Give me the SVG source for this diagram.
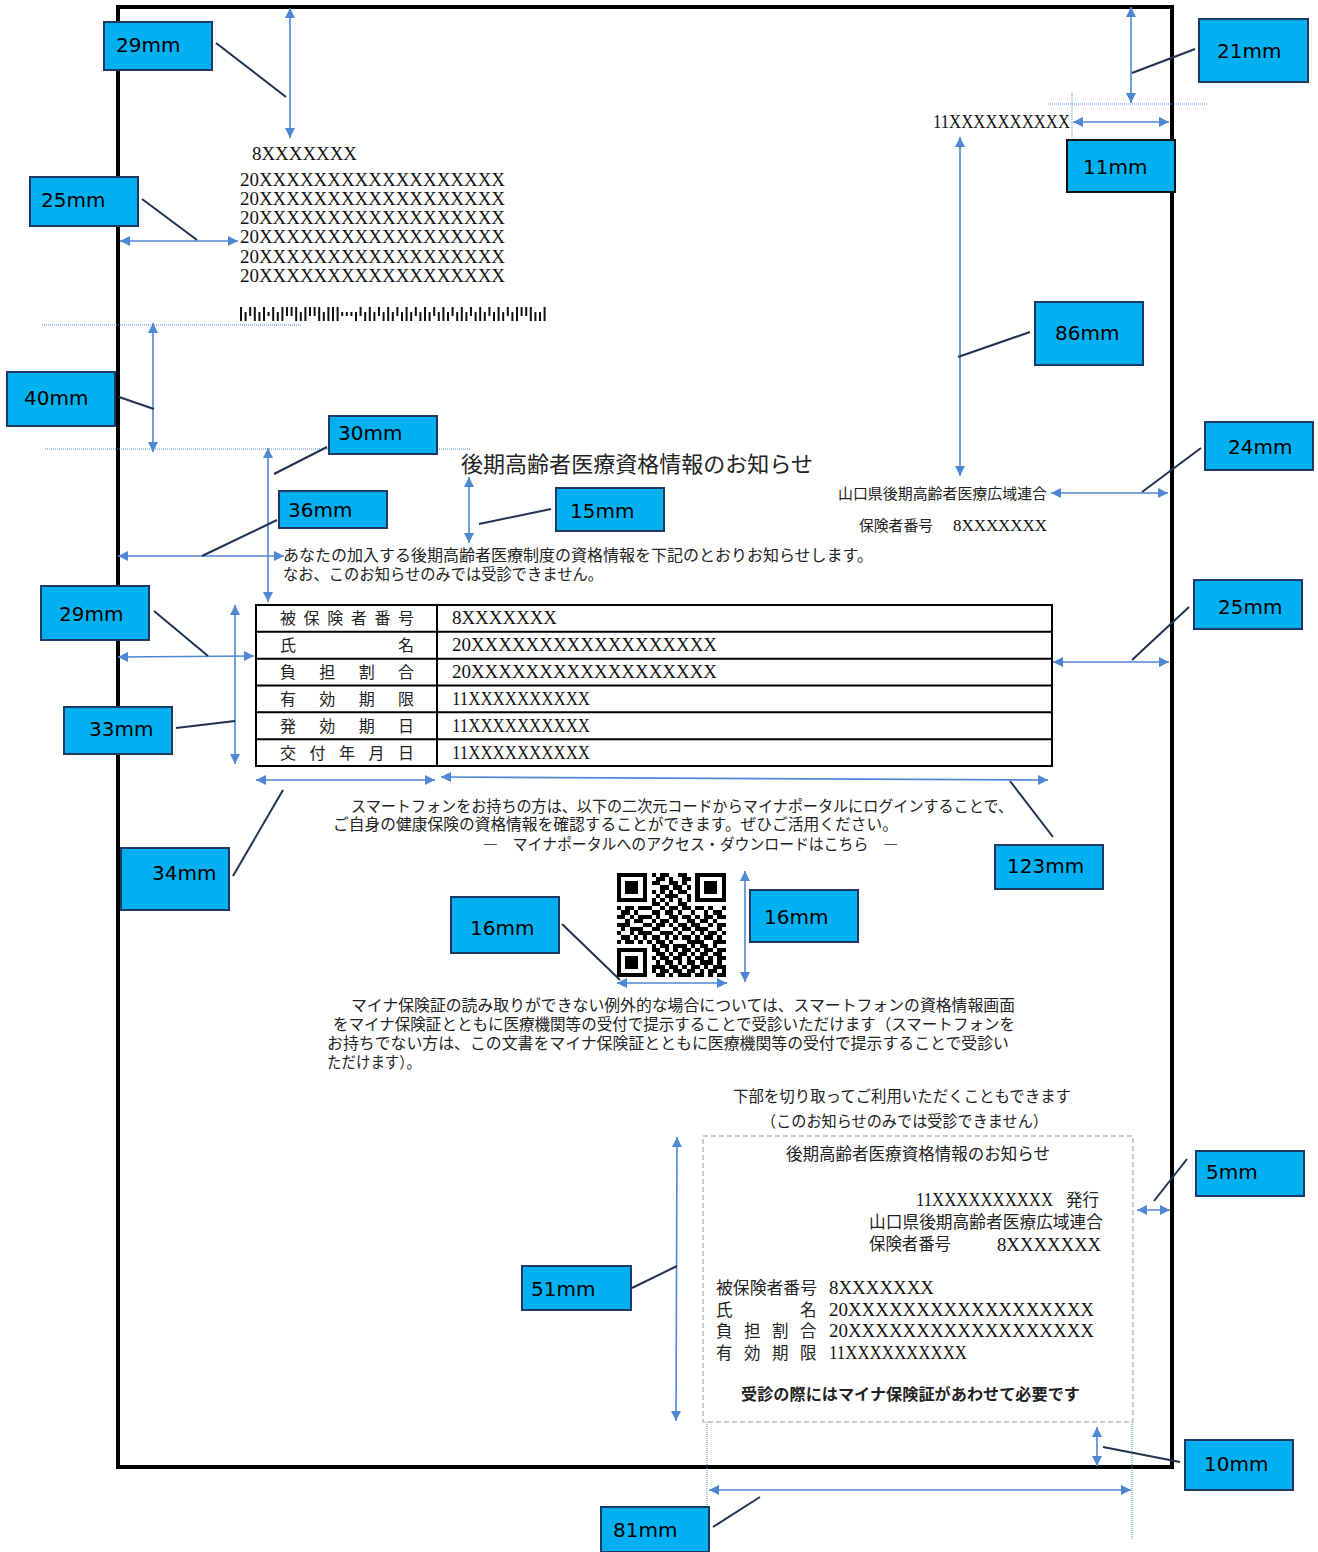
<svg xmlns="http://www.w3.org/2000/svg" width="1318" height="1552" viewBox="0 0 1318 1552">
<style>
.lbl rect{fill:#00B0F0;stroke:#1F3864;stroke-width:2}
.lbl text{font-family:"DejaVu Sans",Verdana,sans-serif;font-size:20px;fill:#000}
.dim{stroke:#4F87D4;stroke-width:1.6;fill:none;marker-start:url(#ah);marker-end:url(#ah)}
.lead{stroke:#1F3350;stroke-width:2;fill:none}
.guide{stroke:#4F87D4;stroke-width:1;stroke-dasharray:1 1;fill:none}
.jp{font-family:"Noto Sans CJK JP","Noto Sans",sans-serif;fill:#222}
.sr{font-family:"Liberation Serif","DejaVu Serif",serif;fill:#111}
.tbl{fill:none;stroke:#000;stroke-width:2}
</style>
<defs>
<marker id="ah" viewBox="0 0 10 10" refX="10" refY="5" markerWidth="10" markerHeight="10" markerUnits="userSpaceOnUse" orient="auto-start-reverse">
<path d="M0,0 L10,5 L0,10 z" fill="#4F87D4"/>
</marker>
</defs>
<rect width="1318" height="1552" fill="#fff"/>
<!-- page -->
<rect x="118" y="7" width="1054" height="1460" fill="none" stroke="#000" stroke-width="4"/>

<!-- address block -->
<text class="sr" x="252" y="160" font-size="18" textLength="105" lengthAdjust="spacingAndGlyphs">8XXXXXXX</text>
<g class="sr" font-size="18">
<text x="240" y="186" textLength="265" lengthAdjust="spacingAndGlyphs">20XXXXXXXXXXXXXXXXXX</text>
<text x="240" y="205" textLength="265" lengthAdjust="spacingAndGlyphs">20XXXXXXXXXXXXXXXXXX</text>
<text x="240" y="224" textLength="265" lengthAdjust="spacingAndGlyphs">20XXXXXXXXXXXXXXXXXX</text>
<text x="240" y="243" textLength="265" lengthAdjust="spacingAndGlyphs">20XXXXXXXXXXXXXXXXXX</text>
<text x="240" y="263" textLength="265" lengthAdjust="spacingAndGlyphs">20XXXXXXXXXXXXXXXXXX</text>
<text x="240" y="282" textLength="265" lengthAdjust="spacingAndGlyphs">20XXXXXXXXXXXXXXXXXX</text>
</g>
<!-- barcode -->
<g stroke="#111" stroke-width="2" fill="none">
<path d="M241 307V321 M254.8 307V321 M264 307V321 M273.2 307V321 M282.4 307V321 M296.2 307V321 M305.4 307V321 M319.2 307V321 M328.4 307V321 M333 307V321 M337.6 307V321 M369.8 307V321 M388.2 307V321 M406.6 307V321 M425 307V321 M443.4 307V321 M461.8 307V321 M480.2 307V321 M498.6 307V321 M517 307V321 M530.8 307V321 M544.6 307V321"/>
<path d="M250.2 307V316 M287 307V316 M291.6 307V316 M310 307V316 M314.6 307V316 M360.6 307V316 M379 307V316 M397.4 307V316 M415.8 307V316 M434.2 307V316 M452.6 307V316 M471 307V316 M489.4 307V316 M507.8 307V316 M521.6 307V316 M526.2 307V316"/>
<path d="M245.6 312V321 M259.4 312V321 M277.8 312V321 M300.8 312V321 M323.8 312V321 M356 312V321 M365.2 312V321 M374.4 312V321 M383.6 312V321 M392.8 312V321 M402 312V321 M411.2 312V321 M420.4 312V321 M429.6 312V321 M438.8 312V321 M448 312V321 M457.2 312V321 M466.4 312V321 M475.6 312V321 M484.8 312V321 M494 312V321 M503.2 312V321 M512.4 312V321 M535.4 312V321 M540 312V321"/>
<path d="M268.6 312V316 M342.2 312V316 M346.8 312V316 M351.4 312V316"/>
</g>

<!-- header right -->
<text class="sr" x="933" y="128" font-size="18" textLength="137" lengthAdjust="spacingAndGlyphs">11XXXXXXXXXX</text>
<text class="jp" x="838" y="499" font-size="15" textLength="209" lengthAdjust="spacingAndGlyphs">山口県後期高齢者医療広域連合</text>
<text class="jp" x="859" y="531" font-size="15" textLength="74" lengthAdjust="spacingAndGlyphs">保険者番号</text>
<text class="sr" x="953" y="531" font-size="16" textLength="94" lengthAdjust="spacingAndGlyphs">8XXXXXXX</text>

<!-- title -->
<text class="jp" x="461" y="472" font-size="22" textLength="352" lengthAdjust="spacingAndGlyphs">後期高齢者医療資格情報のお知らせ</text>
<text class="jp" x="283" y="561" font-size="15.5" textLength="590" lengthAdjust="spacingAndGlyphs">あなたの加入する後期高齢者医療制度の資格情報を下記のとおりお知らせします。</text>
<text class="jp" x="283" y="580" font-size="15.5" textLength="320" lengthAdjust="spacingAndGlyphs">なお、このお知らせのみでは受診できません。</text>

<!-- table -->
<g id="table">
<rect class="tbl" x="256" y="605" width="796" height="161"/>
<path class="tbl" d="M256 631.8H1052 M256 658.7H1052 M256 685.5H1052 M256 712.3H1052 M256 739.2H1052 M437 605V766"/>
<g class="jp" font-size="16">
<text y="624"><tspan x="280">被</tspan><tspan x="303.6">保</tspan><tspan x="327.2">険</tspan><tspan x="350.8">者</tspan><tspan x="374.4">番</tspan><tspan x="398">号</tspan></text>
<text y="651"><tspan x="280">氏</tspan><tspan x="398">名</tspan></text>
<text y="678"><tspan x="280">負</tspan><tspan x="319.3">担</tspan><tspan x="358.7">割</tspan><tspan x="398">合</tspan></text>
<text y="705"><tspan x="280">有</tspan><tspan x="319.3">効</tspan><tspan x="358.7">期</tspan><tspan x="398">限</tspan></text>
<text y="732"><tspan x="280">発</tspan><tspan x="319.3">効</tspan><tspan x="358.7">期</tspan><tspan x="398">日</tspan></text>
<text y="759"><tspan x="280">交</tspan><tspan x="309.5">付</tspan><tspan x="339">年</tspan><tspan x="368.5">月</tspan><tspan x="398">日</tspan></text>
</g>
<g class="sr" font-size="18">
<text x="452" y="624" textLength="105" lengthAdjust="spacingAndGlyphs">8XXXXXXX</text>
<text x="452" y="651" textLength="265" lengthAdjust="spacingAndGlyphs">20XXXXXXXXXXXXXXXXXX</text>
<text x="452" y="678" textLength="265" lengthAdjust="spacingAndGlyphs">20XXXXXXXXXXXXXXXXXX</text>
<text x="452" y="705" textLength="138" lengthAdjust="spacingAndGlyphs">11XXXXXXXXXX</text>
<text x="452" y="732" textLength="138" lengthAdjust="spacingAndGlyphs">11XXXXXXXXXX</text>
<text x="452" y="759" textLength="138" lengthAdjust="spacingAndGlyphs">11XXXXXXXXXX</text>
</g>
</g>

<!-- paragraph 2 -->
<g class="jp" font-size="15.5">
<text x="351" y="812" textLength="662" lengthAdjust="spacingAndGlyphs">スマートフォンをお持ちの方は、以下の二次元コードからマイナポータルにログインすることで、</text>
<text x="333" y="830" textLength="565" lengthAdjust="spacingAndGlyphs">ご自身の健康保険の資格情報を確認することができます。ぜひご活用ください。</text>
<text x="483" y="850" textLength="415" lengthAdjust="spacingAndGlyphs">―　マイナポータルへのアクセス・ダウンロードはこちら　―</text>
</g>

<!-- QR -->
<g id="qr" transform="translate(616.5 873) scale(4.38 4.16)" fill="#000" shape-rendering="crispEdges">
<path d="M0 0h7v1h-7z M8 0h1v1h-1z M10 0h2v1h-2z M14 0h2v1h-2z M18 0h7v1h-7z
M0 1h1v1h-1z M6 1h1v1h-1z M9 1h2v1h-2z M12 1h1v1h-1z M15 1h2v1h-2z M18 1h1v1h-1z M24 1h1v1h-1z
M0 2h1v1h-1z M2 2h3v1h-3z M6 2h1v1h-1z M8 2h2v1h-2z M12 2h2v1h-2z M15 2h1v1h-1z M18 2h1v1h-1z M20 2h3v1h-3z M24 2h1v1h-1z
M0 3h1v1h-1z M2 3h3v1h-3z M6 3h1v1h-1z M10 3h2v1h-2z M13 3h2v1h-2z M16 3h1v1h-1z M18 3h1v1h-1z M20 3h3v1h-3z M24 3h1v1h-1z
M0 4h1v1h-1z M2 4h3v1h-3z M6 4h1v1h-1z M8 4h1v1h-1z M10 4h1v1h-1z M12 4h1v1h-1z M14 4h2v1h-2z M18 4h1v1h-1z M20 4h3v1h-3z M24 4h1v1h-1z
M0 5h1v1h-1z M6 5h1v1h-1z M9 5h1v1h-1z M11 5h3v1h-3z M16 5h1v1h-1z M18 5h1v1h-1z M24 5h1v1h-1z
M0 6h7v1h-7z M8 6h1v1h-1z M10 6h1v1h-1z M12 6h1v1h-1z M14 6h1v1h-1z M16 6h1v1h-1z M18 6h7v1h-7z
M8 7h2v1h-2z M11 7h1v1h-1z M14 7h2v1h-2z
M0 8h1v1h-1z M2 8h2v1h-2z M5 8h3v1h-3z M10 8h1v1h-1z M12 8h2v1h-2z M15 8h2v1h-2z M18 8h2v1h-2z M21 8h1v1h-1z M24 8h1v1h-1z
M1 9h2v1h-2z M4 9h1v1h-1z M8 9h2v1h-2z M11 9h2v1h-2z M14 9h1v1h-1z M17 9h1v1h-1z M20 9h1v1h-1z M22 9h2v1h-2z
M0 10h2v1h-2z M3 10h1v1h-1z M5 10h3v1h-3z M9 10h1v1h-1z M12 10h2v1h-2z M15 10h2v1h-2z M18 10h1v1h-1z M20 10h2v1h-2z M23 10h2v1h-2z
M2 11h1v1h-1z M4 11h2v1h-2z M8 11h1v1h-1z M10 11h2v1h-2z M13 11h1v1h-1z M16 11h2v1h-2z M19 11h2v1h-2z M22 11h1v1h-1z
M0 12h3v1h-3z M6 12h2v1h-2z M9 12h2v1h-2z M12 12h1v1h-1z M14 12h2v1h-2z M17 12h2v1h-2z M21 12h1v1h-1z M23 12h2v1h-2z
M1 13h1v1h-1z M3 13h3v1h-3z M8 13h2v1h-2z M13 13h1v1h-1z M15 13h2v1h-2z M18 13h3v1h-3z M23 13h1v1h-1z
M0 14h1v1h-1z M3 14h1v1h-1z M5 14h3v1h-3z M10 14h3v1h-3z M14 14h1v1h-1z M17 14h1v1h-1z M19 14h1v1h-1z M21 14h2v1h-2z M24 14h1v1h-1z
M1 15h2v1h-2z M4 15h1v1h-1z M6 15h1v1h-1z M8 15h2v1h-2z M11 15h1v1h-1z M13 15h1v1h-1z M15 15h2v1h-2z M18 15h1v1h-1z M20 15h2v1h-2z M23 15h1v1h-1z
M0 16h1v1h-1z M2 16h2v1h-2z M5 16h1v1h-1z M7 16h1v1h-1z M9 16h2v1h-2z M12 16h1v1h-1z M16 16h4v1h-4z M22 16h3v1h-3z
M8 17h1v1h-1z M10 17h2v1h-2z M13 17h3v1h-3z M17 17h1v1h-1z M19 17h2v1h-2z M22 17h1v1h-1z
M0 18h7v1h-7z M8 18h2v1h-2z M11 18h1v1h-1z M13 18h1v1h-1z M15 18h2v1h-2z M18 18h1v1h-1z M20 18h2v1h-2z M23 18h2v1h-2z
M0 19h1v1h-1z M6 19h1v1h-1z M9 19h2v1h-2z M12 19h1v1h-1z M14 19h2v1h-2z M17 19h1v1h-1z M19 19h2v1h-2z M22 19h2v1h-2z
M0 20h1v1h-1z M2 20h3v1h-3z M6 20h1v1h-1z M8 20h1v1h-1z M10 20h2v1h-2z M13 20h2v1h-2z M16 20h1v1h-1z M18 20h2v1h-2z M21 20h1v1h-1z M23 20h2v1h-2z
M0 21h1v1h-1z M2 21h3v1h-3z M6 21h1v1h-1z M9 21h1v1h-1z M11 21h2v1h-2z M14 21h1v1h-1z M16 21h2v1h-2z M19 21h3v1h-3z M23 21h1v1h-1z
M0 22h1v1h-1z M2 22h3v1h-3z M6 22h1v1h-1z M8 22h3v1h-3z M12 22h2v1h-2z M15 22h1v1h-1z M17 22h2v1h-2z M20 22h1v1h-1z M22 22h3v1h-3z
M0 23h1v1h-1z M6 23h1v1h-1z M8 23h1v1h-1z M10 23h2v1h-2z M13 23h2v1h-2z M16 23h2v1h-2z M19 23h1v1h-1z M21 23h2v1h-2z M24 23h1v1h-1z
M0 24h7v1h-7z M9 24h2v1h-2z M12 24h1v1h-1z M14 24h3v1h-3z M18 24h2v1h-2z M21 24h1v1h-1z M23 24h2v1h-2z"/>
</g>

<!-- paragraph 3 -->
<g class="jp" font-size="15.5">
<text x="351" y="1011" textLength="664" lengthAdjust="spacingAndGlyphs">マイナ保険証の読み取りができない例外的な場合については、スマートフォンの資格情報画面</text>
<text x="333" y="1030" textLength="682" lengthAdjust="spacingAndGlyphs">をマイナ保険証とともに医療機関等の受付で提示することで受診いただけます（スマートフォンを</text>
<text x="327" y="1049" textLength="682" lengthAdjust="spacingAndGlyphs">お持ちでない方は、この文書をマイナ保険証とともに医療機関等の受付で提示することで受診い</text>
<text x="327" y="1068" textLength="94" lengthAdjust="spacingAndGlyphs">ただけます）。</text>
<text x="733" y="1102" textLength="338" lengthAdjust="spacingAndGlyphs">下部を切り取ってご利用いただくこともできます</text>
<text x="761" y="1127" textLength="287" lengthAdjust="spacingAndGlyphs">（このお知らせのみでは受診できません）</text>
</g>

<!-- cut-off card -->
<g id="card">
<rect x="703" y="1136" width="430" height="286" fill="none" stroke="#BBBBBB" stroke-width="1.5" stroke-dasharray="5 3"/>
<g class="jp" font-size="16.5">
<text x="786" y="1160" textLength="264" lengthAdjust="spacingAndGlyphs">後期高齢者医療資格情報のお知らせ</text>
<text x="1066" y="1206" textLength="33" lengthAdjust="spacingAndGlyphs">発行</text>
<text x="869" y="1228" textLength="234" lengthAdjust="spacingAndGlyphs">山口県後期高齢者医療広域連合</text>
<text x="869" y="1250" textLength="82" lengthAdjust="spacingAndGlyphs">保険者番号</text>
<text x="716" y="1294" textLength="101" lengthAdjust="spacingAndGlyphs">被保険者番号</text>
<text y="1316"><tspan x="716">氏</tspan><tspan x="800">名</tspan></text>
<text y="1337"><tspan x="716">負</tspan><tspan x="744">担</tspan><tspan x="772">割</tspan><tspan x="800">合</tspan></text>
<text y="1359"><tspan x="716">有</tspan><tspan x="744">効</tspan><tspan x="772">期</tspan><tspan x="800">限</tspan></text>
</g>
<g class="sr" font-size="18">
<text x="916" y="1206" textLength="137" lengthAdjust="spacingAndGlyphs">11XXXXXXXXXX</text>
<text x="997" y="1251" textLength="104" lengthAdjust="spacingAndGlyphs">8XXXXXXX</text>
<text x="829" y="1294" textLength="105" lengthAdjust="spacingAndGlyphs">8XXXXXXX</text>
<text x="829" y="1316" textLength="265" lengthAdjust="spacingAndGlyphs">20XXXXXXXXXXXXXXXXXX</text>
<text x="829" y="1337" textLength="265" lengthAdjust="spacingAndGlyphs">20XXXXXXXXXXXXXXXXXX</text>
<text x="829" y="1359" textLength="138" lengthAdjust="spacingAndGlyphs">11XXXXXXXXXX</text>
</g>
<text class="jp" x="741" y="1400" font-size="16" font-weight="bold" fill="#000" textLength="339" lengthAdjust="spacingAndGlyphs">受診の際にはマイナ保険証があわせて必要です</text>
</g>

<!-- connectors -->
<g id="connectors">
<g>
<line class="guide" x1="1048" y1="104" x2="1208" y2="104"/>
<line class="guide" x1="1072" y1="93" x2="1072" y2="139"/>
<line class="guide" x1="42" y1="325" x2="301" y2="325"/>
<line class="guide" x1="45" y1="449" x2="471" y2="449"/>
<line class="guide" x1="707" y1="1422" x2="707" y2="1540"/>
<line class="guide" x1="1132" y1="1422" x2="1132" y2="1540"/>
</g>
<g>
<line class="dim" x1="290" y1="8" x2="290" y2="138"/>
<line class="dim" x1="1131" y1="7" x2="1131" y2="103"/>
<line class="dim" x1="1073" y1="122" x2="1169" y2="122"/>
<line class="dim" x1="120" y1="241" x2="238" y2="241"/>
<line class="dim" x1="153" y1="323" x2="153" y2="452"/>
<line class="dim" x1="960" y1="137" x2="960" y2="476"/>
<line class="dim" x1="1051" y1="493" x2="1168" y2="493"/>
<line class="dim" x1="268" y1="448" x2="268" y2="602"/>
<line class="dim" x1="469" y1="477" x2="469" y2="543"/>
<line class="dim" x1="118" y1="556" x2="284" y2="556"/>
<line class="dim" x1="118" y1="657" x2="254" y2="656"/>
<line class="dim" x1="235" y1="605" x2="235" y2="764"/>
<line class="dim" x1="1053" y1="662" x2="1169" y2="662"/>
<line class="dim" x1="256" y1="780" x2="435" y2="780"/>
<line class="dim" x1="441" y1="777" x2="1048" y2="780"/>
<line class="dim" x1="745" y1="871" x2="745" y2="982"/>
<line class="dim" x1="617" y1="983" x2="727" y2="983"/>
<line class="dim" x1="1137" y1="1210" x2="1170" y2="1210"/>
<line class="dim" x1="677" y1="1137" x2="676" y2="1421"/>
<line class="dim" x1="1097" y1="1427" x2="1097" y2="1466"/>
<line class="dim" x1="709" y1="1490" x2="1131" y2="1490"/>
</g>
<g>
<line class="lead" x1="216" y1="43" x2="286" y2="97"/>
<line class="lead" x1="1195" y1="49" x2="1132" y2="73"/>
<line class="lead" x1="142" y1="199" x2="197" y2="240"/>
<line class="lead" x1="1030" y1="332" x2="958" y2="357"/>
<line class="lead" x1="119" y1="397" x2="154" y2="409"/>
<line class="lead" x1="327" y1="447" x2="274" y2="474"/>
<line class="lead" x1="277" y1="520" x2="202" y2="556"/>
<line class="lead" x1="551" y1="509" x2="479" y2="524"/>
<line class="lead" x1="1201" y1="448" x2="1142" y2="492"/>
<line class="lead" x1="154" y1="611" x2="208" y2="656"/>
<line class="lead" x1="1189" y1="607" x2="1132" y2="660"/>
<line class="lead" x1="176" y1="728" x2="235" y2="721"/>
<line class="lead" x1="233" y1="876" x2="283" y2="790"/>
<line class="lead" x1="1010" y1="781" x2="1053" y2="837"/>
<line class="lead" x1="562" y1="924" x2="620" y2="980"/>
<line class="lead" x1="1187" y1="1159" x2="1154" y2="1201"/>
<line class="lead" x1="632" y1="1288" x2="677" y2="1266"/>
<line class="lead" x1="1103" y1="1447" x2="1180" y2="1462"/>
<line class="lead" x1="713" y1="1527" x2="760" y2="1497"/>
</g>
</g>

<!-- labels -->
<g id="lbl-29a" class="lbl"><rect x="104" y="22" width="108" height="48"/><text x="116" y="52">29mm</text></g>
<g id="lbl-21" class="lbl"><rect x="1199" y="19" width="109" height="63"/><text x="1217" y="58">21mm</text></g>
<g id="lbl-11" class="lbl"><rect x="1067" y="140" width="108" height="52" style="stroke:#111"/><text x="1083" y="174">11mm</text></g>
<g id="lbl-25a" class="lbl"><rect x="30" y="177" width="108" height="49"/><text x="41" y="207">25mm</text></g>
<g id="lbl-86" class="lbl"><rect x="1035" y="302" width="108" height="63"/><text x="1055" y="340">86mm</text></g>
<g id="lbl-40" class="lbl"><rect x="7" y="372" width="108" height="54"/><text x="24" y="405">40mm</text></g>
<g id="lbl-30" class="lbl"><rect x="329" y="416" width="108" height="38"/><text x="338" y="440">30mm</text></g>
<g id="lbl-24" class="lbl"><rect x="1205" y="422" width="108" height="48"/><text x="1228" y="454">24mm</text></g>
<g id="lbl-36" class="lbl"><rect x="279" y="491" width="108" height="37"/><text x="288" y="517">36mm</text></g>
<g id="lbl-15" class="lbl"><rect x="556" y="488" width="108" height="43"/><text x="570" y="518">15mm</text></g>
<g id="lbl-29b" class="lbl"><rect x="41" y="586" width="108" height="54"/><text x="59" y="621">29mm</text></g>
<g id="lbl-25b" class="lbl"><rect x="1194" y="580" width="108" height="49"/><text x="1218" y="614">25mm</text></g>
<g id="lbl-33" class="lbl"><rect x="64" y="707" width="108" height="47"/><text x="89" y="736">33mm</text></g>
<g id="lbl-123" class="lbl"><rect x="995" y="845" width="108" height="44"/><text x="1007" y="873">123mm</text></g>
<g id="lbl-34" class="lbl"><rect x="121" y="848" width="108" height="62"/><text x="152" y="880">34mm</text></g>
<g id="lbl-16a" class="lbl"><rect x="451" y="897" width="108" height="56"/><text x="470" y="935">16mm</text></g>
<g id="lbl-16b" class="lbl"><rect x="750" y="890" width="108" height="52"/><text x="764" y="924">16mm</text></g>
<g id="lbl-5" class="lbl"><rect x="1196" y="1151" width="108" height="45"/><text x="1206" y="1179">5mm</text></g>
<g id="lbl-51" class="lbl"><rect x="522" y="1266" width="109" height="44"/><text x="531" y="1296">51mm</text></g>
<g id="lbl-10" class="lbl"><rect x="1185" y="1440" width="108" height="50"/><text x="1204" y="1471">10mm</text></g>
<g id="lbl-81" class="lbl"><rect x="601" y="1507" width="108" height="45"/><text x="613" y="1537">81mm</text></g>
</svg>
